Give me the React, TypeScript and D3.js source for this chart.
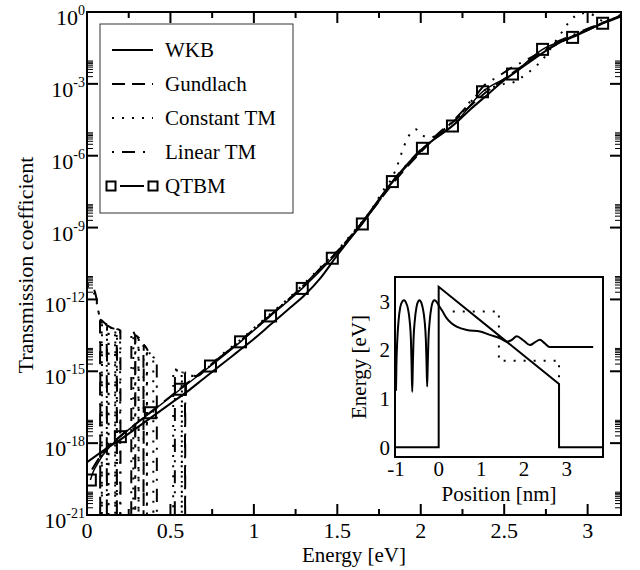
import React from 'react';
import * as d3 from 'd3';

type P = [number, number];

// ---------- axis / label data ----------
const xTickValues = [0, 0.5, 1, 1.5, 2, 2.5, 3];
const xTickLabels = ['0', '0.5', '1', '1.5', '2', '2.5', '3'];
const xMinorTicks = [0.25, 0.75, 1.25, 1.75, 2.25, 2.75];
const yTickExponents = [0, -3, -6, -9, -12, -15, -18, -21];
const legendNames = ['WKB', 'Gundlach', 'Constant TM', 'Linear TM', 'QTBM'];

const insetXTicks = [-1, 0, 1, 2, 3];
const insetYTicks = [0, 1, 2, 3];

// ---------- main chart series: [energy eV, log10(T)] ----------
const wkb: P[] = [
  [0.0, -18.8], [0.1, -18.3], [0.2, -17.85], [0.3, -17.35], [0.4, -16.85], [0.5, -16.35],
  [0.6, -15.85], [0.7, -15.3], [0.8, -14.75], [0.9, -14.2], [1.0, -13.65], [1.1, -13.05],
  [1.2, -12.45], [1.3, -11.85], [1.4, -11.1], [1.5, -10.15], [1.6, -9.25], [1.7, -8.3],
  [1.8, -7.35], [1.9, -6.55], [2.0, -5.8], [2.1, -5.2], [2.2, -4.7], [2.3, -4.05],
  [2.4, -3.45], [2.5, -2.85], [2.6, -2.35], [2.7, -1.85], [2.8, -1.4], [2.9, -1.05],
  [3.0, -0.75], [3.1, -0.45], [3.2, -0.18],
];

const gundlach: P[] = [
  [0.03, -19.1], [0.1, -18.35], [0.2, -17.7], [0.3, -17.15], [0.4, -16.6], [0.5, -16.05],
  [0.6, -15.5], [0.7, -14.95], [0.8, -14.4], [0.9, -13.85], [1.0, -13.25], [1.1, -12.65],
  [1.2, -12.05], [1.3, -11.4], [1.4, -10.7], [1.5, -10.0], [1.6, -9.2], [1.7, -8.35],
  [1.8, -7.45], [1.9, -6.6], [2.0, -5.85], [2.1, -5.15], [2.2, -4.55], [2.3, -3.9],
  [2.4, -3.3], [2.5, -2.8], [2.6, -2.3], [2.7, -1.8], [2.8, -1.4], [2.9, -1.05],
  [3.0, -0.72], [3.1, -0.42], [3.2, -0.15],
];

const constantTM: P[] = [
  [0.0, -11.45], [0.02, -11.5], [0.04, -11.7], [0.06, -12.2], [0.075, -12.7],
  [0.088, -12.9], [0.089, -22], [0.09, -12.9],
  [0.11, -13.0],
  [0.128, -13.15], [0.129, -22], [0.13, -13.15],
  [0.15, -13.2],
  [0.168, -13.25], [0.169, -22], [0.17, -13.25],
  [0.198, -13.3], [0.199, -22],
  [0.277, -22], [0.278, -13.45],
  [0.295, -13.55],
  [0.308, -13.65], [0.309, -22], [0.31, -13.65],
  [0.33, -13.85],
  [0.358, -14.05], [0.359, -22], [0.36, -14.05],
  [0.38, -14.3],
  [0.397, -14.4], [0.398, -22],
  [0.516, -22], [0.517, -14.9],
  [0.54, -14.95],
  [0.567, -15.05], [0.568, -22], [0.569, -15.05],
  [0.6, -15.1], [0.64, -15.2], [0.7, -15.0], [0.74, -14.75], [0.8, -14.35], [0.9, -13.8],
  [1.0, -13.2], [1.1, -12.6], [1.2, -12.0], [1.3, -11.35], [1.4, -10.65], [1.5, -9.95],
  [1.6, -9.15], [1.7, -8.3], [1.78, -7.4], [1.83, -6.9], [1.86, -6.4], [1.9, -5.6],
  [1.93, -5.15], [1.97, -4.9], [2.01, -5.15], [2.06, -5.25], [2.1, -5.1], [2.15, -4.85],
  [2.2, -4.5], [2.26, -4.1], [2.3, -3.7], [2.35, -3.4], [2.4, -3.2], [2.45, -3.1],
  [2.5, -3.0], [2.55, -2.95], [2.6, -2.75], [2.65, -2.5], [2.7, -2.2], [2.74, -1.9],
  [2.8, -1.3], [2.85, -0.8], [2.88, -0.5], [2.93, -0.15], [2.97, -0.05], [3.01, -0.06],
  [3.06, -0.25], [3.1, -0.4], [3.15, -0.3], [3.2, -0.1],
];

const linearTM: P[] = [
  [0.0, -11.35], [0.02, -11.4], [0.04, -11.55], [0.055, -11.9], [0.065, -12.35], [0.075, -12.75],
  [0.078, -12.8], [0.079, -22], [0.08, -12.85],
  [0.1, -12.95],
  [0.118, -13.1], [0.119, -22], [0.12, -13.1],
  [0.15, -13.2],
  [0.178, -13.25], [0.179, -22], [0.18, -13.25],
  [0.2, -13.3], [0.201, -22],
  [0.265, -22], [0.266, -13.3],
  [0.288, -13.5], [0.289, -22], [0.29, -13.5],
  [0.31, -13.6],
  [0.338, -13.9], [0.339, -22], [0.34, -13.9],
  [0.37, -14.2],
  [0.395, -14.4],
  [0.418, -14.5], [0.419, -22],
  [0.526, -22], [0.527, -14.95],
  [0.555, -15.0],
  [0.587, -15.05], [0.588, -22], [0.589, -15.05],
  [0.62, -15.15], [0.66, -15.2], [0.7, -15.0], [0.74, -14.75], [0.8, -14.4], [0.9, -13.85],
  [1.0, -13.25], [1.1, -12.65], [1.2, -12.05], [1.3, -11.4], [1.4, -10.7], [1.5, -10.0],
  [1.6, -9.2], [1.7, -8.35], [1.8, -7.4], [1.85, -6.9], [1.9, -6.5], [2.0, -5.75],
  [2.1, -5.1], [2.2, -4.5], [2.3, -3.75], [2.39, -3.0], [2.45, -2.75], [2.55, -2.3],
  [2.62, -2.05], [2.7, -1.75], [2.8, -1.3], [2.9, -1.0], [3.0, -0.7], [3.1, -0.42], [3.2, -0.15],
];

const qtbmLine: P[] = [
  [0.02, -19.54], [0.04, -19.15], [0.06, -18.9], [0.09, -18.55], [0.13, -18.2], [0.2, -17.73],
  [0.38, -16.73], [0.56, -15.75], [0.74, -14.78], [0.92, -13.77], [1.1, -12.69], [1.29, -11.54],
  [1.47, -10.28], [1.65, -8.85], [1.83, -7.08], [2.01, -5.69], [2.19, -4.76], [2.37, -3.33],
  [2.55, -2.59], [2.73, -1.56], [2.91, -1.06], [3.09, -0.47], [3.2, -0.15],
];

const qtbmMarkers: P[] = [
  [0.02, -19.54], [0.2, -17.73], [0.38, -16.73], [0.56, -15.75], [0.74, -14.78], [0.92, -13.77],
  [1.1, -12.69], [1.29, -11.54], [1.47, -10.28], [1.65, -8.85], [1.83, -7.08], [2.01, -5.69],
  [2.19, -4.76], [2.37, -3.33], [2.55, -2.59], [2.73, -1.56], [2.91, -1.06], [3.09, -0.47],
];

// ---------- inset series: [position nm, energy eV] ----------
const insetPotential: P[] = [
  [-1, 0], [0, 0], [0, 3.3], [2.82, 1.3], [2.82, 0], [3.85, 0],
];

const insetConstant: P[] = [
  [0.33, 2.79], [1.41, 2.79], [1.41, 1.78], [2.82, 1.78], [2.82, 1.3],
];

const insetWave: P[] = [
  [-1, 1.16], [-0.99, 1.7], [-0.97, 2.2], [-0.94, 2.6], [-0.9, 2.88], [-0.85, 3.0], [-0.81, 3.02],
  [-0.77, 2.98], [-0.72, 2.85], [-0.68, 2.6], [-0.65, 2.2], [-0.635, 1.7], [-0.62, 1.14],
  [-0.605, 1.7], [-0.59, 2.2], [-0.56, 2.6], [-0.52, 2.88], [-0.48, 3.0], [-0.445, 3.02],
  [-0.41, 2.98], [-0.37, 2.85], [-0.33, 2.6], [-0.3, 2.2], [-0.285, 1.75], [-0.27, 1.25],
  [-0.255, 1.75], [-0.24, 2.2], [-0.21, 2.6], [-0.17, 2.88], [-0.13, 3.0], [-0.1, 3.02],
  [-0.06, 3.0], [-0.02, 2.95], [0, 2.92], [0.1, 2.78], [0.19, 2.65], [0.3, 2.55], [0.42, 2.48],
  [0.66, 2.41], [0.97, 2.38], [1.2, 2.31], [1.44, 2.24], [1.59, 2.17], [1.7, 2.2], [1.83, 2.28],
  [1.98, 2.2], [2.14, 2.1], [2.26, 2.16], [2.37, 2.21], [2.48, 2.14], [2.6, 2.06], [3.62, 2.06],
];

const FONT = "'Liberation Serif', 'Times New Roman', Times, serif";

export default function App() {
  const L = 87, R = 621, T = 12, B = 515;
  const x = d3.scaleLinear().domain([0, 3.2]).range([L, R]);
  const y = d3.scaleLog().domain([1e-21, 1]).range([B, T]);

  const line = d3
    .line<P>()
    .x((d) => x(d[0]))
    .y((d) => y(Math.pow(10, d[1])))
    .curve(d3.curveMonotoneX);

  // inset scales
  const iL = 395, iR = 603, iT = 277, iB = 457;
  const ix = d3.scaleLinear().domain([-1, 3.85]).range([iL + 1, iR]);
  const iy = d3.scaleLinear().domain([-0.2, 3.5]).range([iB, iT]);
  const iline = d3.line<P>().x((d) => ix(d[0])).y((d) => iy(d[1]));
  const iwave = d3.line<P>().x((d) => ix(d[0])).y((d) => iy(d[1])).curve(d3.curveMonotoneX);

  const majorLen = 11, minorLen = 6;
  const yMinor: number[] = [];
  yTickExponents.forEach((e) => {
    if (e < 0) for (let k = 2; k <= 9; k++) yMinor.push(k * Math.pow(10, e));
  });

  const dashes: Record<string, string | undefined> = {
    WKB: undefined,
    Gundlach: '13,7',
    'Constant TM': '2,8',
    'Linear TM': '2,8,13,8',
    QTBM: undefined,
  };

  const legendBase = [57, 91, 125, 159, 193];
  const sq = 11;

  return (
    <svg width={640} height={570} style={{ position: 'absolute', left: 0, top: 0, background: '#fff' }}>
      <defs>
        <clipPath id="mainClip">
          <rect x={L} y={T} width={R - L} height={B - T} />
        </clipPath>
        <clipPath id="insetClip">
          <rect x={iL} y={iT} width={iR - iL} height={iB - iT} />
        </clipPath>
      </defs>
      <rect x={0} y={0} width={640} height={570} fill="#fff" />

      {/* curves */}
      <g clipPath="url(#mainClip)" fill="none" stroke="#000" strokeWidth={2}>
        <path d={line(constantTM) || ''} strokeDasharray={dashes['Constant TM']} />
        <path d={line(linearTM) || ''} strokeDasharray={dashes['Linear TM']} />
        <path d={line(gundlach) || ''} strokeDasharray={dashes.Gundlach} />
        <path d={line(qtbmLine) || ''} strokeWidth={1.5} />
        <path d={line(wkb) || ''} />
        {qtbmMarkers.map((d, i) => (
          <rect
            key={i}
            x={x(d[0]) - sq / 2}
            y={y(Math.pow(10, d[1])) - sq / 2}
            width={sq}
            height={sq}
            fill="none"
            stroke="#000"
            strokeWidth={2}
          />
        ))}
      </g>

      {/* ticks */}
      <g stroke="#000" strokeWidth={2}>
        {xTickValues.map((v) => (
          <g key={'xt' + v}>
            <line x1={x(v)} x2={x(v)} y1={B} y2={B - majorLen} />
            <line x1={x(v)} x2={x(v)} y1={T} y2={T + majorLen} />
          </g>
        ))}
        {xMinorTicks.map((v) => (
          <g key={'xm' + v}>
            <line x1={x(v)} x2={x(v)} y1={B} y2={B - minorLen} />
            <line x1={x(v)} x2={x(v)} y1={T} y2={T + minorLen} />
          </g>
        ))}
        {yTickExponents.map((e) => (
          <g key={'yt' + e}>
            <line x1={L} x2={L + majorLen} y1={y(Math.pow(10, e))} y2={y(Math.pow(10, e))} />
            <line x1={R} x2={R - majorLen} y1={y(Math.pow(10, e))} y2={y(Math.pow(10, e))} />
          </g>
        ))}
      </g>
      <g stroke="#000" strokeWidth={1}>
        {yMinor.map((v, i) => (
          <g key={'ym' + i}>
            <line x1={L} x2={L + minorLen} y1={y(v)} y2={y(v)} />
            <line x1={R} x2={R - minorLen} y1={y(v)} y2={y(v)} />
          </g>
        ))}
      </g>

      {/* frame */}
      <rect x={L} y={T} width={R - L} height={B - T} fill="none" stroke="#000" strokeWidth={2} />

      {/* tick labels */}
      <g fontFamily={FONT} fontSize={22} fill="#000">
        {xTickValues.map((v, i) => (
          <text key={'xl' + v} x={x(v)} y={538} textAnchor="middle">
            {xTickLabels[i]}
          </text>
        ))}
        {yTickExponents.map((e) => (
          <text key={'yl' + e} x={85} y={y(Math.pow(10, e)) + 13} textAnchor="end">
            <tspan>10</tspan>
            <tspan fontSize={14} dy={-10}>{String(e)}</tspan>
          </text>
        ))}
        <text x={(L + R) / 2} y={562} fontSize={21} textAnchor="middle">Energy [eV]</text>
        <text transform={`translate(33,265) rotate(-90)`} textAnchor="middle">Transmission coefficient</text>
      </g>

      {/* legend */}
      <rect x={100} y={24} width={193} height={189} fill="#fff" stroke="#333" strokeWidth={1} />
      <g fontFamily={FONT} fontSize={21} fill="#000">
        {legendNames.map((name, i) => {
          const by = legendBase[i];
          const ly = by - 7;
          return (
            <g key={name}>
              {name === 'QTBM' ? (
                <g fill="none" stroke="#000" strokeWidth={2}>
                  <rect x={111 - 4.5} y={ly - 4.5} width={9} height={9} />
                  <line x1={120} x2={144} y1={ly} y2={ly} />
                  <rect x={153 - 4.5} y={ly - 4.5} width={9} height={9} />
                </g>
              ) : (
                <line x1={112} x2={153} y1={ly} y2={ly} stroke="#000" strokeWidth={2} strokeDasharray={dashes[name]} />
              )}
              <text x={165} y={by}>{name}</text>
            </g>
          );
        })}
      </g>

      {/* inset */}
      <rect x={iL} y={iT} width={iR - iL} height={iB - iT} fill="#fff" />
      <g clipPath="url(#insetClip)" fill="none" stroke="#000" strokeWidth={2}>
        <path d={iline(insetPotential) || ''} />
        <path d={iline(insetConstant) || ''} strokeDasharray="2,8" />
        <path d={iwave(insetWave) || ''} />
      </g>
      <rect x={iL} y={iT} width={iR - iL} height={iB - iT} fill="none" stroke="#000" strokeWidth={2} />
      <g fontFamily={FONT} fontSize={21} fill="#000">
        {insetXTicks.map((v) => (
          <text key={'ix' + v} x={ix(v)} y={476} textAnchor="middle">{String(v)}</text>
        ))}
        {insetYTicks.map((v) => (
          <text key={'iy' + v} x={390} y={iy(v) + 7.5} textAnchor="end">{String(v)}</text>
        ))}
        <text x={(iL + iR) / 2} y={501} textAnchor="middle">Position [nm]</text>
        <text transform={`translate(366,${(iT + iB) / 2}) rotate(-90)`} textAnchor="middle">Energy [eV]</text>
      </g>
    </svg>
  );
}
